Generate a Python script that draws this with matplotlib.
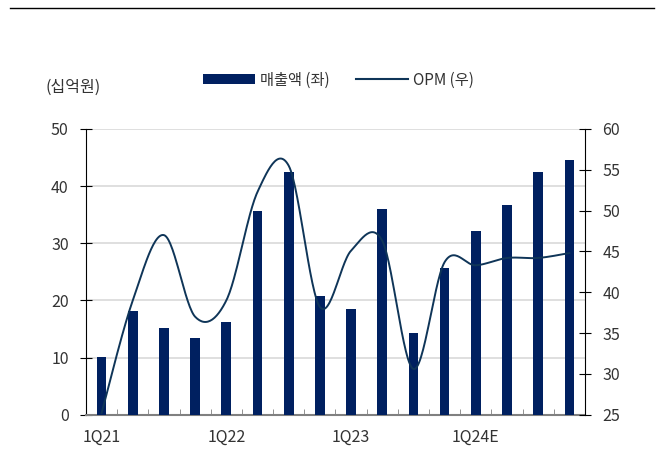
import numpy as np
import matplotlib
matplotlib.use("Agg")
import matplotlib.pyplot as plt
from matplotlib.patches import Patch
from matplotlib.lines import Line2D

plt.rcParams['font.family'] = ['Noto Sans CJK KR', 'DejaVu Sans']

quarters = ['1Q21', '2Q21', '3Q21', '4Q21', '1Q22', '2Q22', '3Q22', '4Q22',
            '1Q23', '2Q23', '3Q23', '4Q23', '1Q24E', '2Q24E', '3Q24E', '4Q24E']
tick_labels = ['1Q21', '', '', '', '1Q22', '', '', '', '1Q23', '', '', '', '1Q24E', '', '', '']
sales = [10.1, 18.2, 15.1, 13.5, 16.3, 35.6, 42.5, 20.7, 18.5, 36.0, 14.3, 25.7, 32.2, 36.7, 42.4, 44.6]
opm = [25.2, 39.0, 47.0, 37.0, 39.0, 52.3, 55.5, 38.2, 45.1, 46.3, 30.6, 43.7, 43.3, 44.2, 44.2, 44.8]

bar_color = '#002060'
line_color = '#0F3558'
text_color = '#333333'


def smooth(x, y, n=30):
    x = np.asarray(x, float)
    y = np.asarray(y, float)
    px = np.concatenate([[x[0]], x, [x[-1]]])
    py = np.concatenate([[y[0]], y, [y[-1]]])
    xs, ys = [], []
    t = np.linspace(0, 1, n)
    for i in range(1, len(px) - 2):
        p0 = np.array([px[i], py[i]])
        p3 = np.array([px[i + 1], py[i + 1]])
        c1 = p0 + (np.array([px[i + 1], py[i + 1]]) - np.array([px[i - 1], py[i - 1]])) / 6
        c2 = p3 - (np.array([px[i + 2], py[i + 2]]) - np.array([px[i], py[i]])) / 6
        b = ((1 - t) ** 3)[:, None] * p0 + (3 * (1 - t) ** 2 * t)[:, None] * c1 \
            + (3 * (1 - t) * t ** 2)[:, None] * c2 + (t ** 3)[:, None] * p3
        xs.extend(b[:, 0])
        ys.extend(b[:, 1])
    return np.array(xs), np.array(ys)


fig = plt.figure(figsize=(6.64, 4.59), dpi=100)
ax = fig.add_axes([0.1295, 0.0965, 0.7515, 0.6225])
x = np.arange(len(quarters))
ax.bar(x, sales, width=0.31, color=bar_color, zorder=3)
ax.set_xlim(-0.5, len(quarters) - 0.5)
ax.set_ylim(0, 50)
ax.set_yticks(np.arange(0, 51, 10))
ax.grid(axis='y', color='#d9d9d9', linewidth=1.2, zorder=0)
ax.set_axisbelow(True)

ax.set_xticks(x)
ax.set_xticklabels(tick_labels)
ax.set_xticks(np.arange(-0.5, len(quarters), 1), minor=True)
ax.tick_params(axis='x', which='major', length=0, pad=10, labelsize=11.5, colors=text_color)
ax.tick_params(axis='x', which='minor', direction='in', length=4, color='#808080')
ax.tick_params(axis='y', direction='inout', length=9, labelsize=11.5, colors=text_color, pad=8)
ax.tick_params(axis='y', color='black')

for s in ['top', 'right']:
    ax.spines[s].set_visible(False)
ax.spines['bottom'].set_color('#808080')
ax.spines['bottom'].set_linewidth(1.5)
ax.spines['left'].set_color('black')

ax2 = ax.twinx()
ax2.set_ylim(25, 60)
ax2.set_yticks(np.arange(25, 61, 5))
xs, ys = smooth(x, opm)
ax2.plot(xs, ys, color=line_color, linewidth=1.4, zorder=4)
ax2.tick_params(axis='y', direction='inout', length=9, labelsize=11.5, colors=text_color, pad=8)
ax2.tick_params(axis='y', color='black')
for s in ['top', 'left', 'bottom']:
    ax2.spines[s].set_visible(False)
ax2.spines['right'].set_color('black')

fig.text(0.069, 0.81, '(십억원)', fontsize=11.5, color=text_color, ha='left', va='center')

handles = [Patch(facecolor=bar_color, edgecolor='none'),
           Line2D([0], [0], color=line_color, linewidth=1.5)]
fig.legend(handles, ['매출액 (좌)', 'OPM (우)'], loc='center', bbox_to_anchor=(0.51, 0.826),
           ncol=2, frameon=False, fontsize=11, handlelength=3.4, handleheight=0.6,
           handletextpad=0.33, columnspacing=1.7, labelcolor=text_color)

fig.add_artist(Line2D([0.015, 0.985], [0.982, 0.982], color='black', linewidth=1.0,
                      transform=fig.transFigure))

fig.savefig('out.png', dpi=100)
